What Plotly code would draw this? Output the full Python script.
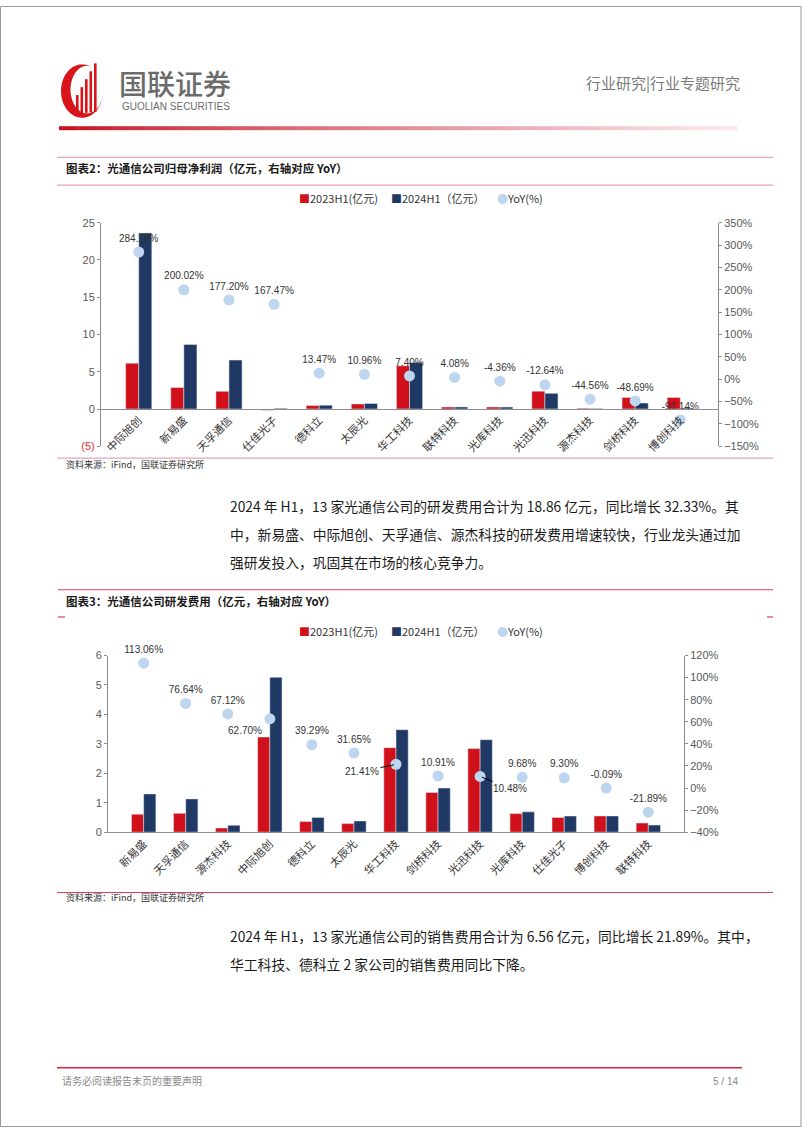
import plotly.graph_objects as go
import numpy as np

W, H = 802, 1133


def fx(x):
    return x / W


def fy(y):
    return 1 - y / H


# ---------------- data ----------------
companies_profit = ["中际旭创", "新易盛", "天孚通信", "仕佳光子", "德科立", "太辰光", "华工科技",
                    "联特科技", "光库科技", "光迅科技", "源杰科技", "剑桥科技", "博创科技"]
profit_2023h1 = [6.15, 2.89, 2.37, -0.15, 0.46, 0.68, 5.80, 0.27, 0.27, 2.40, 0.11, 1.56, 1.56]
profit_2024h1 = [23.63, 8.67, 6.57, 0.10, 0.52, 0.75, 6.23, 0.28, 0.26, 2.10, 0.06, 0.80, 0.14]
profit_yoy = [284.28, 200.02, 177.20, 167.47, 13.47, 10.96, 7.40, 4.08, -4.36, -12.64, -44.56, -48.69, -91.14]

companies_rd = ["新易盛", "天孚通信", "源杰科技", "中际旭创", "德科立", "太辰光", "华工科技",
                "剑桥科技", "光迅科技", "光库科技", "仕佳光子", "博创科技", "联特科技"]
rd_2023h1 = [0.61, 0.64, 0.14, 3.23, 0.36, 0.29, 2.87, 1.35, 2.84, 0.63, 0.50, 0.55, 0.31]
rd_2024h1 = [1.30, 1.13, 0.234, 5.26, 0.50, 0.38, 3.48, 1.50, 3.14, 0.69, 0.547, 0.55, 0.24]
rd_yoy = [113.06, 76.64, 67.12, 62.70, 39.29, 31.65, 21.41, 10.91, 10.48, 9.68, 9.30, -0.09, -21.89]

profit_left_ticks = [-5, 0, 5, 10, 15, 20, 25]
profit_left_text = ['<span style="color:#E0302F">(5)</span>', "0", "5", "10", "15", "20", "25"]
legend_names = ["2023H1(亿元)", "2024H1（亿元）", "YoY(%)"]

RED = "#D0101B"
NAVY = "#1F3864"
DOT = "#BDD5EE"
AXC = "#8C8C8C"
CJK = "Noto Sans CJK SC"
LAT = "Liberation Sans"

fig = go.Figure()

# ---------------- chart 1 ----------------
fig.add_trace(go.Bar(x=companies_profit, y=profit_2023h1, marker_color=RED, name=legend_names[0],
                     xaxis="x", yaxis="y", showlegend=False))
fig.add_trace(go.Bar(x=companies_profit, y=profit_2024h1, marker_color=NAVY, name=legend_names[1],
                     xaxis="x", yaxis="y", showlegend=False))
fig.add_trace(go.Scatter(x=companies_profit, y=profit_yoy, mode="markers+text", name=legend_names[2],
                         marker=dict(color=DOT, size=11),
                         text=[f"{v:.2f}%" for v in profit_yoy], textposition="top center",
                         textfont=dict(family=LAT, size=10, color="#333333"),
                         xaxis="x", yaxis="y2", showlegend=False, cliponaxis=False))

# ---------------- chart 2 ----------------
fig.add_trace(go.Bar(x=companies_rd, y=rd_2023h1, marker_color=RED, name=legend_names[0],
                     xaxis="x2", yaxis="y3", showlegend=False))
fig.add_trace(go.Bar(x=companies_rd, y=rd_2024h1, marker_color=NAVY, name=legend_names[1],
                     xaxis="x2", yaxis="y3", showlegend=False))
rd_text = [f"{v:.2f}%" for v in rd_yoy]
rd_pos = ["top center"] * len(rd_yoy)
rd_pos[3] = "bottom left"
lead_21 = rd_text[6]
lead_10 = rd_text[8]
rd_text[6] = ""
rd_text[8] = ""
fig.add_trace(go.Scatter(x=companies_rd, y=rd_yoy, mode="markers+text", name=legend_names[2],
                         marker=dict(color=DOT, size=11),
                         text=rd_text, textposition=rd_pos,
                         textfont=dict(family=LAT, size=10, color="#333333"),
                         xaxis="x2", yaxis="y4", showlegend=False, cliponaxis=False))

tickfont_num = dict(family=LAT, size=11, color="#595959")
tickfont_cat = dict(family=CJK, size=11, color="#333333")

fig.update_layout(
    width=W, height=H, margin=dict(l=0, r=0, t=0, b=0),
    paper_bgcolor="white", plot_bgcolor="rgba(0,0,0,0)",
    barmode="group", bargap=0.42, bargroupgap=0,
    showlegend=False,
    xaxis=dict(domain=[fx(101), fx(718)], anchor="free", position=fy(407), type="category",
               showline=True, linecolor=AXC, linewidth=1, ticks="", tickangle=-45,
               tickfont=tickfont_cat, showgrid=False, zeroline=False),
    yaxis=dict(domain=[fy(445), fy(219)], anchor="x", range=[-5, 25],
               tickvals=profit_left_ticks, ticktext=profit_left_text,
               showline=True, linecolor=AXC, ticks="outside", ticklen=3, tickcolor=AXC,
               tickfont=tickfont_num, showgrid=False, zeroline=False),
    yaxis2=dict(overlaying="y", side="right", anchor="x", range=[-150, 350], dtick=50,
                ticksuffix="%", showline=True, linecolor=AXC, ticks="outside", ticklen=3,
                tickcolor=AXC, tickfont=tickfont_num, showgrid=False, zeroline=False),
    xaxis2=dict(domain=[fx(108), fx(684)], anchor="y3", type="category",
                showline=True, linecolor=AXC, linewidth=1, ticks="", tickangle=-45,
                tickfont=tickfont_cat, showgrid=False, zeroline=False),
    yaxis3=dict(domain=[fy(835), fy(656.5)], anchor="x2", range=[0, 6], dtick=1,
                showline=True, linecolor=AXC, ticks="outside", ticklen=3, tickcolor=AXC,
                tickfont=tickfont_num, showgrid=False, zeroline=False),
    yaxis4=dict(overlaying="y3", side="right", anchor="x2", range=[-40, 120], dtick=20,
                ticksuffix="%", showline=True, linecolor=AXC, ticks="outside", ticklen=3,
                tickcolor=AXC, tickfont=tickfont_num, showgrid=False, zeroline=False),
)

shapes = []
annots = []


def hline(y, x0, x1, color, width=1.2):
    shapes.append(dict(type="line", xref="paper", yref="paper", x0=fx(x0), x1=fx(x1),
                       y0=fy(y), y1=fy(y), line=dict(color=color, width=width)))


def text(x, y, s, size=12, color="#222", family=CJK, xanchor="left", weight=None):
    f = dict(family=family, size=size, color=color)
    if weight:
        f["weight"] = weight
    annots.append(dict(xref="paper", yref="paper", x=fx(x), y=fy(y), text=s, showarrow=False,
                       xanchor=xanchor, yanchor="middle", font=f))


# page border
shapes.append(dict(type="rect", xref="paper", yref="paper", x0=fx(0.5), x1=fx(801), y0=fy(1132.5),
                   y1=fy(0.5), line=dict(color="#9A9A9A", width=1)))

# ---------------- header ----------------
def poly(points):
    return "M " + " L ".join(f"{fx(px):.5f},{fy(py):.5f}" for px, py in points) + " Z"


t = np.linspace(0, 2 * np.pi, 60)
outer = [(82 + 21 * np.cos(a), 86 + 27 * np.sin(a)) for a in t]
inner = [(87 + 16.5 * np.cos(a), 84.5 + 24 * np.sin(a)) for a in t]
shapes.append(dict(type="path", xref="paper", yref="paper", path=poly(outer),
                   fillcolor="#D7141A", line=dict(width=0)))
shapes.append(dict(type="path", xref="paper", yref="paper", path=poly(inner),
                   fillcolor="white", line=dict(width=0)))
for i, (bx, top) in enumerate([(76, 90), (80.5, 82), (85, 74), (89.5, 66), (94, 58)]):
    shapes.append(dict(type="rect", xref="paper", yref="paper", x0=fx(bx), x1=fx(bx + 2.6),
                       y0=fy(109 - i * 0.5), y1=fy(top), fillcolor="#D7141A", line=dict(width=0)))

text(117, 78, "国联证券", size=28, color="#6B6B6B", weight=500)
text(120, 102, "GUOLIAN SECURITIES", size=10, color="#6B6B6B", family=LAT)
text(742, 77, "行业研究|行业专题研究", size=15, color="#7A7A7A", xanchor="right")

# gradient line
n = 40
for i in range(n):
    x0 = 59 + (737 - 59) * i / n
    x1 = 59 + (737 - 59) * (i + 1) / n + 0.5
    k = i / (n - 1)
    r = int(200 + (252 - 200) * k)
    g = int(16 + (232 - 16) * k ** 0.8)
    b = int(30 + (235 - 30) * k ** 0.8)
    shapes.append(dict(type="rect", xref="paper", yref="paper", x0=fx(x0), x1=fx(x1),
                       y0=fy(125.5), y1=fy(121.5), fillcolor=f"rgb({r},{g},{b})", line=dict(width=0)))

# ---------------- chart 1 frame ----------------
hline(153, 57, 773, "#E7A3B8")
text(64, 164, "图表2：光通信公司归母净利润（亿元，右轴对应 YoY）", size=11.5, color="#1A1A1A", weight="bold")
hline(181, 57, 773, "#E7A3B8")
hline(457, 57, 773, "#E7A3B8")
text(64, 463, "资料来源：iFind，国联证券研究所", size=9, color="#333333")

# ---------------- chart 2 frame ----------------
hline(590, 58, 773, "#D8415E")
text(64, 601, "图表3：光通信公司研发费用（亿元，右轴对应 YoY）", size=11.5, color="#1A1A1A", weight="bold")
hline(617.5, 58, 65, "#D8415E")
hline(617.5, 767, 773, "#D8415E")
hline(896, 57, 773, "#D8415E")
text(64, 901, "资料来源：iFind，国联证券研究所", size=9, color="#333333")

# legends
for ly in (194, 632):
    text(297, ly, f'<span style="color:{RED}">■</span>{legend_names[0]}', size=11, color="#333333")
    text(389, ly, f'<span style="color:{NAVY}">■</span>{legend_names[1]}', size=11, color="#333333")
    text(495, ly, f'<span style="color:{DOT}">●</span>{legend_names[2]}', size=11, color="#333333")

# leader-line labels in chart 2
annots.append(dict(x=companies_rd[6], y=rd_yoy[6], xref="x2", yref="y4", text=lead_21,
                   showarrow=True, arrowhead=0, arrowwidth=1, arrowcolor="#000", ax=-34, ay=7,
                   standoff=2, font=dict(family=LAT, size=10, color="#333333")))
annots.append(dict(x=companies_rd[8], y=rd_yoy[8], xref="x2", yref="y4", text=lead_10,
                   showarrow=True, arrowhead=0, arrowwidth=1, arrowcolor="#000", ax=30, ay=12,
                   standoff=2, font=dict(family=LAT, size=10, color="#333333")))

# ---------------- body text ----------------
BODY = "Liberation Sans Narrow, Noto Sans CJK SC"
p1 = ["2024 年 H1，13 家光通信公司的研发费用合计为 18.86 亿元，同比增长 32.33%。其",
      "中，新易盛、中际旭创、天孚通信、源杰科技的研发费用增速较快，行业龙头通过加",
      "强研发投入，巩固其在市场的核心竞争力。"]
for i, line in enumerate(p1):
    text(228, 505 + i * 28.5, line, size=13.8, color="#1A1A1A", family=BODY)
p2 = ["2024 年 H1，13 家光通信公司的销售费用合计为 6.56 亿元，同比增长 21.89%。其中，",
      "华工科技、德科立 2 家公司的销售费用同比下降。"]
for i, line in enumerate(p2):
    text(228, 940 + i * 28.5, line, size=13.8, color="#1A1A1A", family=BODY)

# ---------------- footer ----------------
hline(1073, 57, 742, "#D7263D", width=1.5)
text(60, 1086, "请务必阅读报告末页的重要声明", size=10, color="#8A8A8A")
text(740, 1087, "5 / 14", size=10, color="#8A8A8A", xanchor="right", family=LAT)

fig.update_layout(shapes=shapes, annotations=annots)

fig.write_html("out.html", include_plotlyjs=True, config={"displayModeBar": False},
               post_script="document.body.style.margin='0';")
